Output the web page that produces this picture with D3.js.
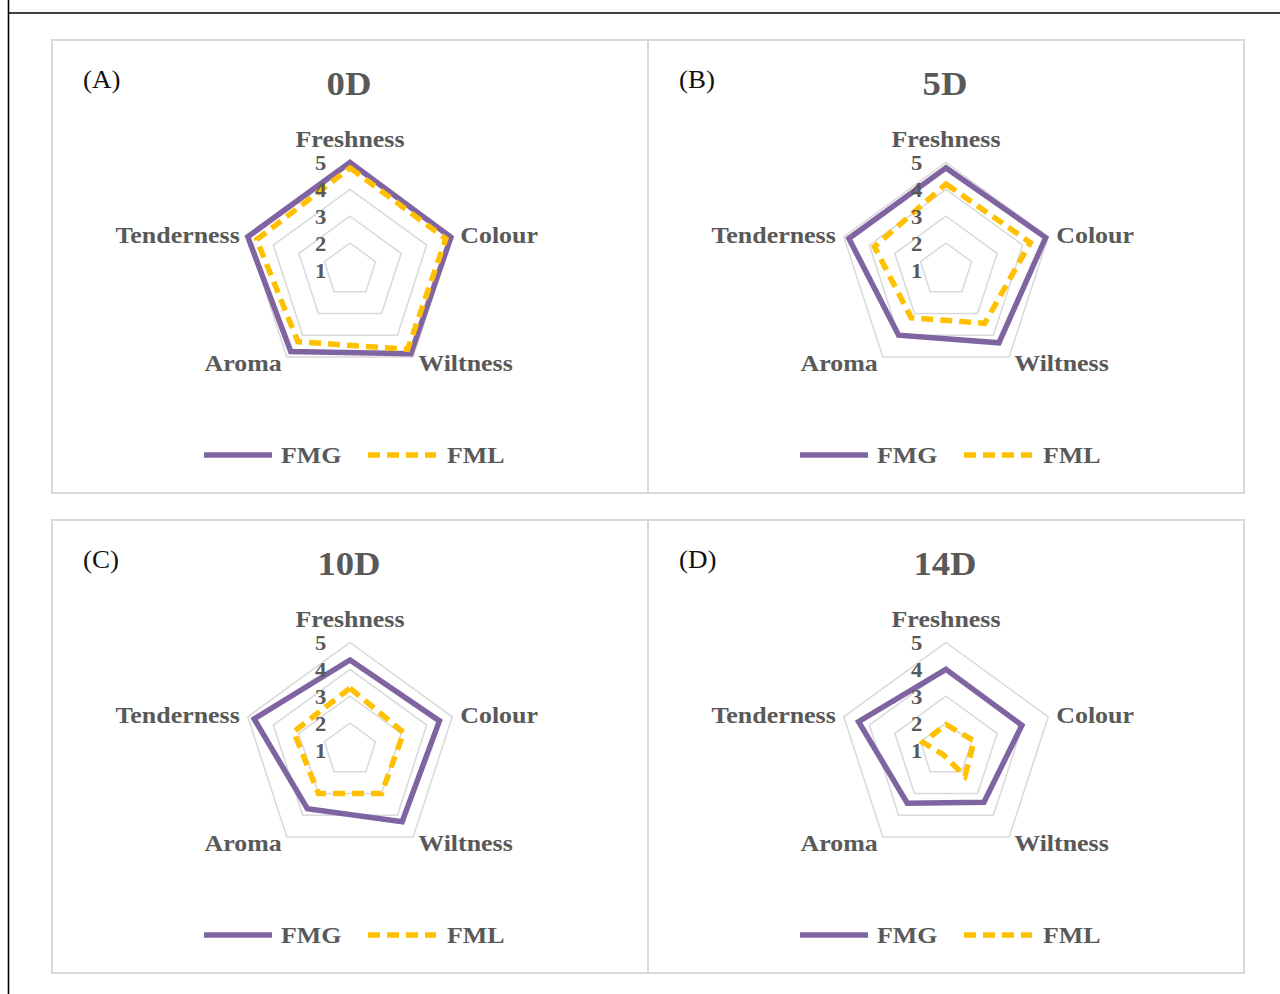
<!DOCTYPE html>
<html>
<head>
<meta charset="utf-8">
<script src="https://cdn.jsdelivr.net/npm/d3@7"></script>
<style>
  html, body { margin: 0; padding: 0; background: #fff; }
  text { font-family: "Liberation Serif", "Times New Roman", serif; }
</style>
</head>
<body>
<div id="chart"></div>
<script>
// sensory scores
var axes = ["Freshness", "Colour", "Wiltness", "Aroma", "Tenderness"];
var panelTags = ["(A)", "(B)", "(C)", "(D)"];
var days = ["0D", "5D", "10D", "14D"];
var seriesNames = ["FMG", "FML"];
var fmg = [
  [5.0, 4.95, 4.85, 4.75, 5.0],
  [4.8, 4.9, 4.35, 4.0, 4.8],
  [4.35, 4.5, 4.3, 3.7, 4.75],
  [4.0, 3.97, 3.4, 3.45, 4.42]
];
var fml = [
  [4.8, 4.75, 4.65, 4.3, 4.65],
  [4.2, 4.3, 3.45, 3.2, 3.8],
  [3.3, 3.1, 3.0, 3.0, 3.2],
  [1.95, 2.1, 2.2, 1.2, 1.9]
];
var ticks = [1, 2, 3, 4, 5];

var width = 1280, height = 994;
var panelW = 596, panelH = 453;
var origins = [[52, 40], [648, 40], [52, 520], [648, 520]];
var colors = { FMG: "#8064a2", FML: "#ffc000" };
var sx = 1.08; // text in the picture is a little stretched

var svg = d3.select("#chart")
  .append("svg")
  .attr("width", width)
  .attr("height", height)
  .attr("viewBox", [0, 0, width, height]);

// outer black rules
svg.append("line").attr("x1", 8.5).attr("x2", 8.5).attr("y1", 0).attr("y2", height)
  .attr("stroke", "#000").attr("stroke-width", 1.6);
svg.append("line").attr("x1", 8).attr("x2", width).attr("y1", 13).attr("y2", 13)
  .attr("stroke", "#000").attr("stroke-width", 1.6);

var r = d3.scaleLinear().domain([1, 5]).range([0, 107.5]);
var angle = d3.scaleBand().domain(axes).range([0, 2 * Math.PI]).align(0);
function ang(a) { return angle(a); }
function pt(a, v) {
  var t = ang(a);
  return [r(v) * Math.sin(t), -r(v) * Math.cos(t)];
}

function label(g, str, x, y, o) {
  return g.append("text")
    .attr("transform", "translate(" + x + "," + y + ") scale(" + sx + ",1)")
    .attr("text-anchor", o.anchor || "start")
    .attr("dominant-baseline", "central")
    .attr("font-size", o.size)
    .attr("font-weight", o.weight || "bold")
    .attr("fill", o.fill || "#595959")
    .text(str);
}

var radial = d3.lineRadial()
  .angle(function(d) { return ang(d.axis); })
  .radius(function(d) { return r(d.value); })
  .curve(d3.curveLinearClosed);

panelTags.forEach(function(tag, i) {
  var g = svg.append("g")
    .attr("transform", "translate(" + origins[i][0] + "," + origins[i][1] + ")");

  g.append("rect")
    .attr("x", 0).attr("y", 0)
    .attr("width", panelW).attr("height", panelH)
    .attr("fill", "#fff")
    .attr("stroke", "#d9d9d9")
    .attr("stroke-width", 2);

  label(g, tag, 31, 40, { size: 25, weight: "normal", fill: "#111" });
  label(g, days[i], 297, 43, { size: 34, anchor: "middle" });

  var c = g.append("g").attr("transform", "translate(298,230)");

  // grid rings
  c.selectAll("path.ring")
    .data(ticks.slice(1))
    .join("path")
    .attr("class", "ring")
    .attr("d", function(t) {
      return radial(axes.map(function(a) { return { axis: a, value: t }; }));
    })
    .attr("fill", "none")
    .attr("stroke", "#d9d9d9")
    .attr("stroke-width", 1.5);

  // series
  var data = [fmg[i], fml[i]];
  c.selectAll("path.series")
    .data(data)
    .join("path")
    .attr("class", "series")
    .attr("d", function(vals) {
      return radial(axes.map(function(a, k) { return { axis: a, value: vals[k] }; }));
    })
    .attr("fill", "none")
    .attr("stroke", function(d, k) { return colors[seriesNames[k]]; })
    .attr("stroke-width", 5.5)
    .attr("stroke-linejoin", "miter")
    .attr("stroke-dasharray", function(d, k) { return k === 1 ? "12,7" : null; });

  // tick labels
  ticks.forEach(function(t) {
    label(c, String(t), -35, -r(t) + 1, { size: 21 });
  });

  // axis labels
  var p0 = pt("Freshness", 5);
  label(c, "Freshness", 0, p0[1] - 24, { size: 24, anchor: "middle" });
  var p1 = pt("Colour", 5);
  label(c, "Colour", p1[0] + 8, p1[1] - 2, { size: 24 });
  var p2 = pt("Wiltness", 5);
  label(c, "Wiltness", p2[0] + 5, p2[1] + 6, { size: 24 });
  var p3 = pt("Aroma", 5);
  label(c, "Aroma", p3[0] - 5, p3[1] + 6, { size: 24, anchor: "end" });
  var p4 = pt("Tenderness", 5);
  label(c, "Tenderness", p4[0] - 8, p4[1] - 2, { size: 24, anchor: "end" });

  // legend
  var lg = g.append("g").attr("transform", "translate(0,415)");
  lg.append("line").attr("x1", 152).attr("x2", 220).attr("y1", 0).attr("y2", 0)
    .attr("stroke", colors.FMG).attr("stroke-width", 5.5);
  label(lg, "FMG", 229, 0, { size: 24 });
  lg.append("line").attr("x1", 316).attr("x2", 384).attr("y1", 0).attr("y2", 0)
    .attr("stroke", colors.FML).attr("stroke-width", 5.5).attr("stroke-dasharray", "12,7");
  label(lg, "FML", 395, 0, { size: 24 });
});
</script>
</body>
</html>
